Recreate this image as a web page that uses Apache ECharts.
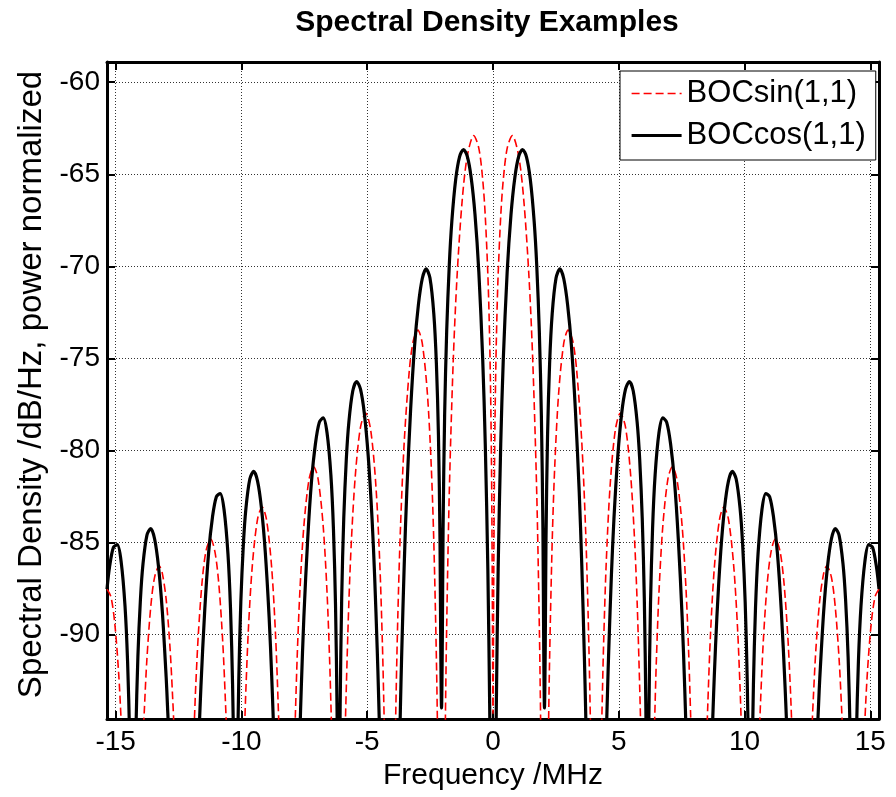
<!DOCTYPE html>
<html><head><meta charset="utf-8">
<script src="https://cdn.jsdelivr.net/npm/echarts@6/dist/echarts.min.js"></script>
<style>html,body{margin:0;padding:0;background:#fff}#c{width:896px;height:797px}</style>
</head><body><div id="c"></div>
<script>
const chartTitle = 'Spectral Density Examples';
const xName = 'Frequency /MHz';
const yName = 'Spectral Density /dB/Hz, power normalized';
const seriesNames = ['BOCsin(1,1)', 'BOCcos(1,1)'];
const xTicks = [-15, -10, -5, 0, 5, 10, 15];
const yTicks = [-90, -85, -80, -75, -70, -65, -60];

// BOCsin(1,1) (MHz, dB/Hz)
const sinFreq = [
-15.345,-15.192,-15.038,-14.885,-14.782,-14.731,-14.322,
-13.913,-13.862,-13.759,-13.606,-13.452,-13.268,-13.146,-12.992,-12.839,-12.736,-12.685,-12.276,
-11.918,-11.867,-11.816,-11.713,-11.560,-11.406,-11.222,-11.048,-10.895,-10.742,-10.639,-10.588,-10.230,
-9.923,-9.872,-9.821,-9.719,-9.565,-9.360,-9.176,-9.002,-8.798,-8.644,-8.542,-8.491,-8.184,
-7.898,-7.857,-7.775,-7.673,-7.519,-7.314,-7.130,-6.956,-6.752,-6.598,-6.496,-6.445,-6.394,-6.138,
-5.882,-5.831,-5.729,-5.627,-5.473,-5.268,-5.064,-4.859,-4.655,-4.501,-4.399,-4.348,-4.297,-4.092,
-3.939,-3.867,-3.785,-3.683,-3.529,-3.325,-3.171,-2.987,-2.813,-2.609,-2.455,-2.353,-2.251,-2.199,-2.148,-2.046,
-1.944,-1.893,-1.841,-1.739,-1.586,-1.432,-1.228,-1.023,-0.767,-0.563,-0.409,-0.307,-0.205,-0.153,-0.102,-0.061,-0.031,
0,
0.031,0.061,0.102,0.153,0.205,0.307,0.409,0.563,0.767,1.023,1.228,1.432,1.586,1.739,1.841,1.893,1.944,2.046,
2.148,2.199,2.251,2.353,2.455,2.609,2.813,2.987,3.171,3.325,3.529,3.683,3.785,3.867,3.939,4.092,
4.297,4.348,4.399,4.501,4.655,4.859,5.064,5.268,5.473,5.627,5.729,5.831,5.882,6.138,
6.394,6.445,6.496,6.598,6.752,6.956,7.130,7.314,7.519,7.673,7.775,7.857,7.898,8.184,
8.491,8.542,8.644,8.798,9.002,9.176,9.360,9.565,9.719,9.821,9.872,9.923,10.230,
10.588,10.639,10.742,10.895,11.048,11.222,11.406,11.560,11.713,11.816,11.867,11.918,12.276,
12.685,12.736,12.839,12.992,13.146,13.268,13.452,13.606,13.759,13.862,13.913,14.322,
14.731,14.782,14.885,15.038,15.192,15.345
];
const sinDb = [
-87.54,-87.94,-89.38,-92.04,-94.72,-96.42,-130,
-95.92,-94.16,-91.35,-88.51,-86.89,-86.28,-86.69,-88.11,-90.75,-93.42,-95.12,-130,
-96.63,-94.54,-92.77,-89.96,-87.09,-85.45,-84.82,-85.56,-87.34,-90.46,-93.59,-95.60,-130,
-97.48,-94.99,-92.90,-89.59,-86.21,-83.74,-83.08,-83.78,-86.39,-90.06,-93.73,-96.12,-130,
-96.60,-94.42,-90.87,-87.54,-84.12,-81.59,-80.89,-81.54,-84.09,-87.71,-91.35,-93.73,-96.63,-130,
-95.90,-92.86,-88.21,-84.85,-81.36,-78.74,-77.97,-78.93,-81.94,-86.12,-90.41,-93.28,-96.89,-130,
-101.0,-94.38,-89.10,-84.38,-79.54,-75.63,-74.06,-73.47,-74.18,-76.91,-80.85,-84.98,-91.27,-95.95,-102.7,-130,
-101.8,-94.64,-89.53,-82.35,-75.33,-70.62,-66.47,-64.02,-62.90,-63.59,-65.29,-67.28,-70.44,-72.82,-76.25,-80.64,-86.64,
-94.3,
-86.64,-80.64,-76.25,-72.82,-70.44,-67.28,-65.29,-63.59,-62.90,-64.02,-66.47,-70.62,-75.33,-82.35,-89.53,-94.64,-101.8,-130,
-102.7,-95.95,-91.27,-84.98,-80.85,-76.91,-74.18,-73.47,-74.06,-75.63,-79.54,-84.38,-89.10,-94.38,-101.0,-130,
-96.89,-93.28,-90.41,-86.12,-81.94,-78.93,-77.97,-78.74,-81.36,-84.85,-88.21,-92.86,-95.90,-130,
-96.63,-93.73,-91.35,-87.71,-84.09,-81.54,-80.89,-81.59,-84.12,-87.54,-90.87,-94.42,-96.60,-130,
-96.12,-93.73,-90.06,-86.39,-83.78,-83.08,-83.74,-86.21,-89.59,-92.90,-94.99,-97.48,-130,
-95.60,-93.59,-90.46,-87.34,-85.56,-84.82,-85.45,-87.09,-89.96,-92.77,-94.54,-96.63,-130,
-95.12,-93.42,-90.75,-88.11,-86.69,-86.28,-86.89,-88.51,-91.35,-94.16,-95.92,-130,
-96.42,-94.72,-92.04,-89.38,-87.94,-87.54
];

// BOCcos(1,1) (MHz, dB/Hz)
const cosFreq = [
-15.345,-15.243,-15.089,-14.936,-14.782,-14.629,-14.527,-14.445,-14.383,
-14.322,-14.261,-14.199,-14.117,-14.015,-13.913,-13.759,-13.606,-13.452,-13.299,-13.146,-12.992,-12.941,-12.890,
-12.276,-11.713,-11.611,-11.458,-11.304,-11.151,-10.997,-10.844,-10.690,-10.537,-10.435,-10.353,-10.291,
-10.230,-10.169,-10.107,-10.025,-9.923,-9.821,-9.667,-9.514,-9.360,-9.207,-9.054,-8.900,-8.798,-8.747,-8.696,
-8.184,-7.724,-7.673,-7.621,-7.519,-7.366,-7.212,-7.059,-6.905,-6.752,-6.598,-6.445,-6.343,-6.261,-6.199,-6.169,
-6.138,-6.107,-6.077,-6.015,-5.933,-5.831,-5.729,-5.575,-5.422,-5.268,-5.115,-4.962,-4.808,-4.706,-4.604,-4.552,-4.501,
-4.092,-3.734,-3.683,-3.632,-3.529,-3.427,-3.274,-3.120,-2.967,-2.813,-2.660,-2.506,-2.353,-2.251,-2.169,-2.107,-2.077,
-2.046,-2.015,-1.985,-1.923,-1.841,-1.739,-1.637,-1.483,-1.330,-1.176,-1.023,-0.870,-0.716,-0.563,-0.409,-0.307,-0.205,-0.133,-0.102,
0,
0.102,0.133,0.205,0.307,0.409,0.563,0.716,0.870,1.023,1.176,1.330,1.483,1.637,1.739,1.841,1.923,1.985,2.015,2.046,
2.077,2.107,2.169,2.251,2.353,2.506,2.660,2.813,2.967,3.120,3.274,3.427,3.529,3.632,3.683,3.734,4.092,
4.501,4.552,4.604,4.706,4.808,4.962,5.115,5.268,5.422,5.575,5.729,5.831,5.933,6.015,6.077,6.107,6.138,
6.169,6.199,6.261,6.343,6.445,6.598,6.752,6.905,7.059,7.212,7.366,7.519,7.621,7.673,7.724,8.184,
8.696,8.747,8.798,8.900,9.054,9.207,9.360,9.514,9.667,9.821,9.923,10.025,10.107,10.169,10.230,
10.291,10.353,10.435,10.537,10.690,10.844,10.997,11.151,11.304,11.458,11.611,11.713,12.276,
12.890,12.941,12.992,13.146,13.299,13.452,13.606,13.759,13.913,14.015,14.117,14.199,14.261,14.322,
14.383,14.445,14.527,14.629,14.782,14.936,15.089,15.243,15.345
];
const cosDb = [
-87.54,-86.33,-85.27,-85.13,-86.06,-88.46,-91.47,-95.63,-101.5,
-130,-101.4,-95.48,-91.22,-88.08,-86.16,-84.62,-84.25,-84.82,-86.30,-88.75,-92.36,-93.87,-95.57,
-130,-96.63,-92.85,-88.65,-85.54,-83.62,-82.52,-82.35,-83.24,-85.61,-88.59,-92.73,-98.60,
-130,-98.50,-92.53,-88.24,-85.09,-83.14,-81.56,-81.14,-81.67,-83.11,-85.51,-89.07,-92.25,-94.15,-96.29,
-130,-97.76,-95.20,-92.89,-89.07,-84.81,-81.64,-79.64,-78.48,-78.24,-79.05,-81.34,-84.27,-88.37,-94.20,-100.1,
-130,-100.1,-94.03,-88.02,-83.69,-80.47,-78.45,-76.78,-76.26,-76.68,-78.00,-80.29,-83.72,-86.82,-90.76,-93.15,-95.89,
-130,-97.54,-94.14,-91.20,-86.21,-82.25,-77.77,-74.36,-72.11,-70.68,-70.14,-70.64,-72.58,-75.26,-79.15,-84.83,-90.69,
-94.0,-90.43,-84.31,-78.11,-73.52,-69.96,-67.57,-65.28,-64.05,-63.66,-64.02,-65.16,-67.18,-70.32,-75.06,-79.68,-86.45,-93.81,-98.33,
-130,
-98.33,-93.81,-86.45,-79.68,-75.06,-70.32,-67.18,-65.16,-64.02,-63.66,-64.05,-65.28,-67.57,-69.96,-73.52,-78.11,-84.31,-90.43,-94.0,
-90.69,-84.83,-79.15,-75.26,-72.58,-70.64,-70.14,-70.68,-72.11,-74.36,-77.77,-82.25,-86.21,-91.20,-94.14,-97.54,-130,
-95.89,-93.15,-90.76,-86.82,-83.72,-80.29,-78.00,-76.68,-76.26,-76.78,-78.45,-80.47,-83.69,-88.02,-94.03,-100.1,-130,
-100.1,-94.20,-88.37,-84.27,-81.34,-79.05,-78.24,-78.48,-79.64,-81.64,-84.81,-89.07,-92.89,-95.20,-97.76,-130,
-96.29,-94.15,-92.25,-89.07,-85.51,-83.11,-81.67,-81.14,-81.56,-83.14,-85.09,-88.24,-92.53,-98.50,-130,
-98.60,-92.73,-88.59,-85.61,-83.24,-82.35,-82.52,-83.62,-85.54,-88.65,-92.85,-96.63,-130,
-95.57,-93.87,-92.36,-88.75,-86.30,-84.82,-84.25,-84.62,-86.16,-88.08,-91.22,-95.48,-101.4,-130,
-101.5,-95.63,-91.47,-88.46,-86.06,-85.13,-85.27,-86.33,-87.54
];

const FONT = "'Liberation Sans', Arial, Helvetica, sans-serif";
const xRange = [-15.345, 15.345];
const yRange = [-94.6, -58.9];

function axisCommon(ticks) {
  return {
    axisLine: { show: true, onZero: false, lineStyle: { color: '#000', width: 3 } },
    axisTick: { show: true, inside: true, length: 8, customValues: ticks, lineStyle: { color: '#000', width: 2 } }
  };
}

const chart = echarts.init(document.getElementById('c'), null, { renderer: 'canvas' });
chart.setOption({
  animation: false,
  backgroundColor: '#fff',
  title: {
    text: chartTitle, left: 482, top: 3, textAlign: 'center',
    textStyle: { fontSize: 30, fontWeight: 'bold', color: '#000', fontFamily: FONT }
  },
  legend: {
    data: [
      { name: seriesNames[0], lineStyle: { width: 1.6, type: [8, 4], color: '#ff0000' } },
      { name: seriesNames[1], lineStyle: { width: 3.2, type: 'solid', color: '#000' } }
    ],
    orient: 'vertical', left: 620, top: 71,
    itemWidth: 50, itemHeight: 2, itemGap: 11, padding: [7, 10, 9, 10],
    itemStyle: { opacity: 0 },
    borderColor: '#000', borderWidth: 1, backgroundColor: '#fff',
    textStyle: { fontSize: 31, color: '#000', fontFamily: FONT }
  },
  grid: { left: 107, right: 17, top: 62, bottom: 78, containLabel: false },
  xAxis: [
    Object.assign({
      type: 'value', min: xRange[0], max: xRange[1], position: 'bottom',
      axisLabel: { customValues: xTicks, fontSize: 28, color: '#000', margin: 9, fontFamily: FONT },
      splitLine: { show: true, lineStyle: { type: [1, 2], color: '#333', width: 1 } },
      name: xName, nameLocation: 'middle', nameGap: 42,
      nameTextStyle: { fontSize: 30, color: '#000', fontFamily: FONT }
    }, axisCommon(xTicks)),
    Object.assign({
      type: 'value', min: xRange[0], max: xRange[1], position: 'top',
      axisLabel: { show: false }, splitLine: { show: false }
    }, axisCommon(xTicks))
  ],
  yAxis: [
    Object.assign({
      type: 'value', min: yRange[0], max: yRange[1], position: 'left',
      axisLabel: { customValues: yTicks, fontSize: 28, color: '#000', margin: 7, fontFamily: FONT },
      splitLine: { show: true, lineStyle: { type: [1, 2], color: '#333', width: 1 } },
      name: yName, nameLocation: 'middle', nameGap: 55,
      nameTextStyle: { fontSize: 33, color: '#000', fontFamily: FONT, padding: [0, 0, 0, 12] }
    }, axisCommon(yTicks)),
    Object.assign({
      type: 'value', min: yRange[0], max: yRange[1], position: 'right',
      axisLabel: { show: false }, splitLine: { show: false }
    }, axisCommon(yTicks))
  ],
  series: [
    {
      name: seriesNames[0], type: 'line', xAxisIndex: 0, yAxisIndex: 0,
      data: sinFreq.map((f, i) => [f, sinDb[i]]),
      symbol: 'none', showSymbol: false, smooth: 0.3, clip: true,
      lineStyle: { color: '#ff0000', width: 1.6, type: [8, 4] },
      itemStyle: { color: '#ff0000' }, z: 3
    },
    {
      name: seriesNames[1], type: 'line', xAxisIndex: 0, yAxisIndex: 0,
      data: cosFreq.map((f, i) => [f, cosDb[i]]),
      symbol: 'none', showSymbol: false, smooth: 0.3, clip: true,
      lineStyle: { color: '#000', width: 3.2, type: 'solid' },
      itemStyle: { color: '#000' }, z: 4
    }
  ]
});
</script>
</body></html>
